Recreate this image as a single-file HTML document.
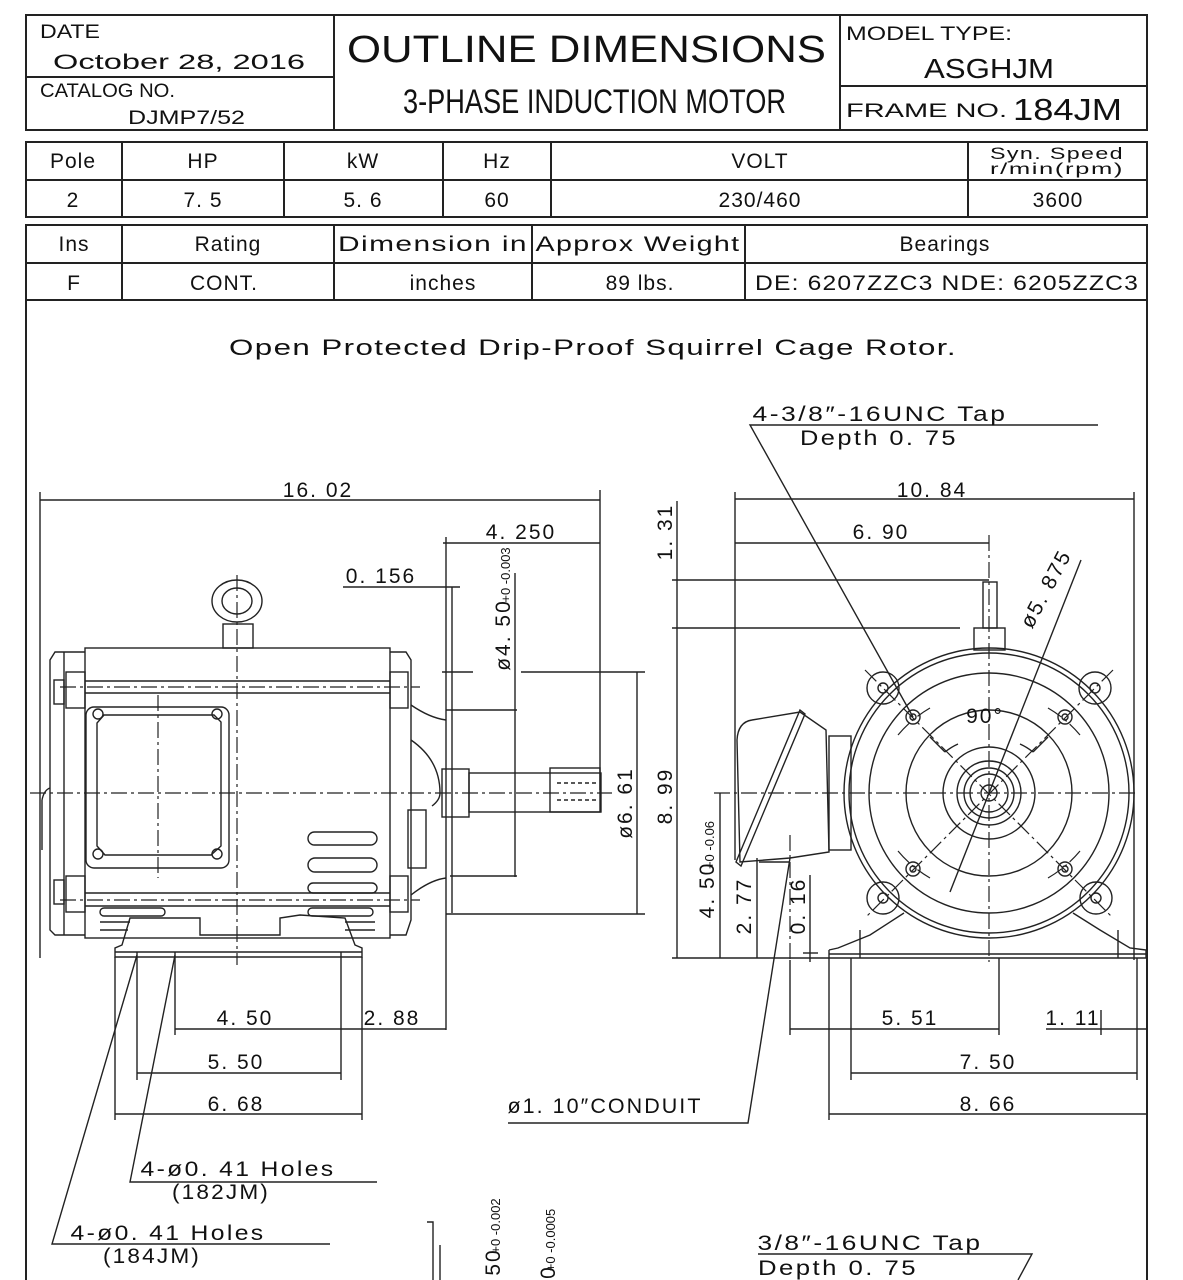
<!DOCTYPE html>
<html><head><meta charset="utf-8"><style>
html,body{margin:0;padding:0;background:#fff}
svg{display:block}
text{font-family:"Liberation Sans",sans-serif;fill:#111}
.d text{letter-spacing:2px}
</style></head><body>
<svg width="1183" height="1280" viewBox="0 0 1183 1280" xmlns="http://www.w3.org/2000/svg">
<g fill="none" stroke="#222" stroke-width="2">
<rect x="26" y="15" width="1121" height="115"/>
<line x1="334" y1="15" x2="334" y2="130"/>
<line x1="840" y1="15" x2="840" y2="130"/>
<line x1="26" y1="77" x2="334" y2="77"/>
<line x1="840" y1="86" x2="1147" y2="86"/>
<rect x="26" y="142" width="1121" height="75"/>
<line x1="26" y1="180" x2="1147" y2="180"/>
<line x1="122" y1="142" x2="122" y2="217"/>
<line x1="284" y1="142" x2="284" y2="217"/>
<line x1="443" y1="142" x2="443" y2="217"/>
<line x1="551" y1="142" x2="551" y2="217"/>
<line x1="968" y1="142" x2="968" y2="217"/>
<rect x="26" y="225" width="1121" height="75"/>
<line x1="26" y1="263" x2="1147" y2="263"/>
<line x1="122" y1="225" x2="122" y2="300"/>
<line x1="334" y1="225" x2="334" y2="300"/>
<line x1="532" y1="225" x2="532" y2="300"/>
<line x1="745" y1="225" x2="745" y2="300"/>
<line x1="26" y1="300" x2="26" y2="1280"/>
<line x1="1147" y1="300" x2="1147" y2="1280"/>
</g>

<g font-size="19">
<text x="40" y="38" textLength="60" lengthAdjust="spacingAndGlyphs">DATE</text>
<text x="53" y="69" textLength="252" lengthAdjust="spacingAndGlyphs" font-size="21">October 28, 2016</text>
<text x="40" y="97" textLength="135" lengthAdjust="spacingAndGlyphs">CATALOG NO.</text>
<text x="128" y="124" textLength="117" lengthAdjust="spacingAndGlyphs">DJMP7/52</text>
<text x="347" y="62" font-size="38" textLength="479" lengthAdjust="spacingAndGlyphs">OUTLINE DIMENSIONS</text>
<text x="403" y="113" font-size="34" textLength="383" lengthAdjust="spacingAndGlyphs">3-PHASE  INDUCTION  MOTOR</text>
<text x="846" y="40" textLength="166" lengthAdjust="spacingAndGlyphs">MODEL TYPE:</text>
<text x="924" y="78" font-size="28" textLength="130" lengthAdjust="spacingAndGlyphs">ASGHJM</text>
<text x="846" y="117" textLength="161" lengthAdjust="spacingAndGlyphs">FRAME NO.</text>
<text x="1013" y="120" font-size="31" textLength="109" lengthAdjust="spacingAndGlyphs">184JM</text>
</g>
<g font-size="21" text-anchor="middle" style="letter-spacing:1px">
<text x="73" y="168">Pole</text>
<text x="203" y="168">HP</text>
<text x="363" y="168">kW</text>
<text x="497" y="168">Hz</text>
<text x="760" y="168">VOLT</text>
<text x="1057" y="159" font-size="17" textLength="134" lengthAdjust="spacingAndGlyphs">Syn. Speed</text>
<text x="1057" y="174" font-size="16" textLength="134" lengthAdjust="spacingAndGlyphs">r/min(rpm)</text>
<text x="73" y="207">2</text>
<text x="203" y="207">7. 5</text>
<text x="363" y="207">5. 6</text>
<text x="497" y="207">60</text>
<text x="760" y="207">230/460</text>
<text x="1058" y="207">3600</text>
<text x="74" y="251">Ins</text>
<text x="228" y="251">Rating</text>
<text x="433" y="251" textLength="190" lengthAdjust="spacingAndGlyphs">Dimension in</text>
<text x="638" y="251" textLength="205" lengthAdjust="spacingAndGlyphs">Approx Weight</text>
<text x="945" y="251">Bearings</text>
<text x="74" y="290">F</text>
<text x="224" y="290">CONT.</text>
<text x="443" y="290">inches</text>
<text x="640" y="290">89 lbs.</text>
<text x="947" y="290" textLength="384" lengthAdjust="spacingAndGlyphs">DE: 6207ZZC3 NDE: 6205ZZC3</text>
<text x="593" y="355" font-size="22" textLength="728" lengthAdjust="spacingAndGlyphs">Open Protected Drip-Proof Squirrel Cage Rotor.</text>
</g>

<g fill="none" stroke="#222" stroke-width="1.4">
<line x1="40" y1="500" x2="600" y2="500"/>
<line x1="40" y1="492" x2="40" y2="958"/>
<line x1="600" y1="490" x2="600" y2="790"/>
<line x1="443" y1="543" x2="600" y2="543"/>
<line x1="446" y1="537" x2="446" y2="1030"/>
<line x1="343" y1="587" x2="460" y2="587"/>
<line x1="452" y1="587" x2="452" y2="913"/>
<line x1="515" y1="573" x2="515" y2="877"/>
<line x1="446" y1="710" x2="517" y2="710"/>
<line x1="450" y1="876" x2="517" y2="876"/>
<line x1="637" y1="672" x2="637" y2="914"/>
<line x1="442" y1="672" x2="473" y2="672"/>
<line x1="521" y1="672" x2="645" y2="672"/>
<line x1="446" y1="914" x2="645" y2="914"/>
<rect x="85" y="648" width="305" height="290"/>
<line x1="85" y1="681" x2="390" y2="681"/>
<line x1="85" y1="693" x2="390" y2="693"/>
<line x1="85" y1="893" x2="390" y2="893"/>
<line x1="85" y1="906" x2="390" y2="906"/>
<path d="M85,652 L55,652 L50,660 L50,930 L55,935 L85,935"/>
<path d="M64,652 L64,935"/>
<rect x="66" y="672" width="19" height="36"/>
<rect x="66" y="876" width="19" height="36"/>
<rect x="54" y="680" width="10" height="24"/>
<rect x="54" y="880" width="10" height="24"/>
<path d="M42,800 Q44,790 50,788 M42,800 L42,850"/>
<path d="M390,652 L406,652 L411,660 L411,920 L406,935 L390,935"/>
<rect x="390" y="672" width="18" height="36"/>
<rect x="390" y="876" width="18" height="36"/>
<rect x="408" y="810" width="18" height="58"/>
<path d="M411,705 Q430,718 446,720 M411,895 Q430,880 446,878"/>
<path d="M411,740 Q440,760 440,793 Q440,800 432,806"/>
<rect x="442" y="769" width="27" height="48"/>
<rect x="469" y="773" width="132" height="39"/>
<rect x="550" y="768" width="50" height="44"/>
<path d="M557,783 L596,783 M557,800 L596,800" stroke-dasharray="4 3"/>
<ellipse cx="237" cy="601" rx="25" ry="21"/>
<ellipse cx="237" cy="601" rx="15" ry="13"/>
<rect x="223" y="624" width="30" height="24"/>
<rect x="86" y="707" width="143" height="161" rx="8"/>
<path d="M104,715 L214,715 L221,722 L221,846 L211,855 L105,855 L97,846 L97,723 Z"/>
<circle cx="98" cy="714" r="5"/><circle cx="217" cy="714" r="5"/>
<circle cx="98" cy="854" r="5"/><circle cx="217" cy="854" r="5"/>
<rect x="308" y="832" width="69" height="13" rx="6.5"/>
<rect x="308" y="858" width="69" height="14" rx="7"/>
<rect x="308" y="883" width="69" height="10" rx="5"/>
<rect x="100" y="908" width="65" height="8" rx="4"/>
<rect x="308" y="908" width="65" height="8" rx="4"/>
<line x1="100" y1="922" x2="130" y2="922"/><line x1="100" y1="930" x2="128" y2="930"/>
<line x1="345" y1="922" x2="375" y2="922"/><line x1="345" y1="930" x2="375" y2="930"/>
<path d="M115,948 L115,957 L362,957 L362,948 L355,945 L345,918 L300,915 L280,918 L280,935 L200,935 L200,918 L130,918 L122,945 Z"/>
<line x1="115" y1="952" x2="362" y2="952"/>
</g>
<g fill="none" stroke="#222" stroke-width="1.2" stroke-dasharray="16 4 3 4">
<line x1="30" y1="793" x2="612" y2="793"/>
<line x1="237" y1="575" x2="237" y2="965"/>
<line x1="158" y1="695" x2="158" y2="878"/>
<line x1="60" y1="687" x2="420" y2="687"/>
<line x1="60" y1="900" x2="420" y2="900"/>
</g>
<g class="d" font-size="21" text-anchor="middle">
<text x="318" y="497">16. 02</text>
<text x="521" y="539">4. 250</text>
<text x="381" y="583">0. 156</text>
<text transform="translate(510,635) rotate(-90)">ø4. 50</text>
<text transform="translate(510,575) rotate(-90)" font-size="13" style="letter-spacing:0">+0 -0.003</text>
<text transform="translate(632,803) rotate(-90)">ø6. 61</text>
</g>

<g fill="none" stroke="#222" stroke-width="1.4">
<line x1="175" y1="1029" x2="446" y2="1029"/>
<line x1="137" y1="1073" x2="341" y2="1073"/>
<line x1="115" y1="1114" x2="362" y2="1114"/>
<line x1="175" y1="952" x2="175" y2="1035"/>
<line x1="341" y1="952" x2="341" y2="1080"/>
<line x1="137" y1="952" x2="137" y2="1080"/>
<line x1="115" y1="957" x2="115" y2="1120"/>
<line x1="362" y1="957" x2="362" y2="1120"/>
<polyline points="137,955 52,1244 330,1244"/>
<polyline points="175,955 130,1182 377,1182"/>
<polyline points="427,1222 433,1222 433,1280"/>
<line x1="440" y1="1245" x2="440" y2="1280"/>
</g>
<g class="d" font-size="21" text-anchor="middle">
<text x="245" y="1025">4. 50</text>
<text x="392" y="1025">2. 88</text>
<text x="236" y="1069">5. 50</text>
<text x="236" y="1111">6. 68</text>
<text x="238" y="1176" textLength="195" lengthAdjust="spacingAndGlyphs">4-ø0. 41 Holes</text>
<text x="221" y="1199" textLength="98" lengthAdjust="spacingAndGlyphs">(182JM)</text>
<text x="168" y="1240" textLength="195" lengthAdjust="spacingAndGlyphs">4-ø0. 41 Holes</text>
<text x="152" y="1263" textLength="98" lengthAdjust="spacingAndGlyphs">(184JM)</text>
<text transform="translate(500,1262) rotate(-90)">50</text>
<text transform="translate(500,1226) rotate(-90)" font-size="13" style="letter-spacing:0">+0 -0.002</text>
<text transform="translate(555,1272) rotate(-90)">0</text>
<text transform="translate(555,1240) rotate(-90)" font-size="13" style="letter-spacing:0">+0 -0.0005</text>
<text x="605" y="1113" textLength="195" lengthAdjust="spacingAndGlyphs">ø1. 10″CONDUIT</text>
<text x="870" y="1250" textLength="225" lengthAdjust="spacingAndGlyphs">3/8″-16UNC Tap</text>
<text x="838" y="1275" textLength="160" lengthAdjust="spacingAndGlyphs">Depth 0. 75</text>
</g>
<g fill="none" stroke="#222" stroke-width="1.4">
<polyline points="790,858 748,1123 508,1123"/>
<polyline points="758,1254 1032,1254 1018,1280"/>
</g>

<g fill="none" stroke="#222" stroke-width="1.4">
<line x1="735" y1="499" x2="1134" y2="499"/>
<line x1="735" y1="492" x2="735" y2="860"/>
<line x1="1134" y1="492" x2="1134" y2="960"/>
<line x1="735" y1="543" x2="989" y2="543"/>
<line x1="677" y1="501" x2="677" y2="958"/>
<line x1="672" y1="580" x2="989" y2="580"/>
<line x1="672" y1="628" x2="960" y2="628"/>
<line x1="672" y1="958" x2="829" y2="958"/>
<rect x="974" y="628" width="31" height="22"/>
<rect x="983" y="582" width="14" height="46"/>
<circle cx="989" cy="793" r="145"/>
<circle cx="989" cy="793" r="140"/>
<circle cx="989" cy="793" r="120"/>
<circle cx="989" cy="793" r="83"/>
<circle cx="989" cy="793" r="46"/>
<circle cx="989" cy="793" r="32"/>
<circle cx="989" cy="793" r="25"/>
<circle cx="989" cy="793" r="19"/>
<circle cx="989" cy="793" r="8"/>
<circle cx="883" cy="688" r="16"/><circle cx="883" cy="688" r="5"/>
<circle cx="1095" cy="688" r="16"/><circle cx="1095" cy="688" r="5"/>
<circle cx="883" cy="898" r="16"/><circle cx="883" cy="898" r="5"/>
<circle cx="1096" cy="898" r="16"/><circle cx="1096" cy="898" r="5"/>
<circle cx="913" cy="717" r="7"/><circle cx="913" cy="717" r="3"/>
<circle cx="1065" cy="717" r="7"/><circle cx="1065" cy="717" r="3"/>
<circle cx="913" cy="869" r="7"/><circle cx="913" cy="869" r="3"/>
<circle cx="1065" cy="869" r="7"/><circle cx="1065" cy="869" r="3"/>
<path d="M945,752 A60,60 0 0 1 958,744 M1020,744 A60,60 0 0 1 1033,752"/>
<line x1="945" y1="752" x2="930" y2="737"/>
<line x1="1033" y1="752" x2="1048" y2="737"/>
<path d="M752,720 L800,712 L826,730 L829,852 L790,858 L740,862 L737,740 Q738,722 752,720 Z"/>
<path d="M800,710 L805,714 L741,866 L736,862 Z"/>
<rect x="829" y="736" width="22" height="114"/>
<line x1="759" y1="862" x2="790" y2="862"/>
<path d="M829,950 L829,958 L1146,958 L1146,950 L1130,948 L1100,930 L1073,913 M904,913 L870,935 L838,948 L829,950"/>
<line x1="829" y1="954" x2="1146" y2="954"/>
<line x1="860" y1="930" x2="860" y2="958"/><line x1="1118" y1="930" x2="1118" y2="958"/>
<line x1="720" y1="793" x2="720" y2="958"/>
<line x1="757" y1="858" x2="757" y2="958"/>
<line x1="810" y1="875" x2="810" y2="962"/>
<line x1="803" y1="953" x2="818" y2="953"/>
<polyline points="1098,425 750,425 913,717"/>
<line x1="1081" y1="560" x2="950" y2="892"/>
<line x1="790" y1="1029" x2="999" y2="1029"/>
<line x1="1046" y1="1029" x2="1147" y2="1029"/>
<line x1="851" y1="1073" x2="1137" y2="1073"/>
<line x1="829" y1="1114" x2="1147" y2="1114"/>
<line x1="790" y1="960" x2="790" y2="1035"/>
<line x1="999" y1="958" x2="999" y2="1035"/>
<line x1="829" y1="958" x2="829" y2="1120"/>
<line x1="851" y1="958" x2="851" y2="1080"/>
<line x1="1137" y1="958" x2="1137" y2="1080"/>
<line x1="1101" y1="1010" x2="1101" y2="1035"/>
</g>
<g fill="none" stroke="#222" stroke-width="1.2" stroke-dasharray="16 4 3 4">
<line x1="714" y1="793" x2="1136" y2="793"/>
<line x1="989" y1="535" x2="989" y2="962"/>
<line x1="790" y1="835" x2="790" y2="960"/>
<line x1="865" y1="670" x2="1113" y2="918"/>
<line x1="1113" y1="670" x2="865" y2="918"/>
<path d="M898,735 A120,120 0 0 1 930,708 M1048,708 A120,120 0 0 1 1080,735 M898,851 A120,120 0 0 0 930,878 M1048,878 A120,120 0 0 0 1080,851"/>
</g>
<g class="d" font-size="21" text-anchor="middle">
<text x="880" y="421" textLength="255" lengthAdjust="spacingAndGlyphs">4-3/8″-16UNC Tap</text>
<text x="879" y="445" textLength="158" lengthAdjust="spacingAndGlyphs">Depth 0. 75</text>
<text x="932" y="497">10. 84</text>
<text x="881" y="539">6. 90</text>
<text transform="translate(672,532) rotate(-90)">1. 31</text>
<text transform="translate(672,796) rotate(-90)">8. 99</text>
<text transform="translate(1052,592) rotate(-62)">ø5. 875</text>
<text x="985" y="723">90°</text>
<text transform="translate(714,890) rotate(-90)">4. 50</text>
<text transform="translate(714,845) rotate(-90)" font-size="13" style="letter-spacing:0">+0 -0.06</text>
<text transform="translate(751,906) rotate(-90)">2. 77</text>
<text transform="translate(805,906) rotate(-90)">0. 16</text>
<text x="910" y="1025">5. 51</text>
<text x="1073" y="1025">1. 11</text>
<text x="988" y="1069">7. 50</text>
<text x="988" y="1111">8. 66</text>
</g>
</svg>
</body></html>
